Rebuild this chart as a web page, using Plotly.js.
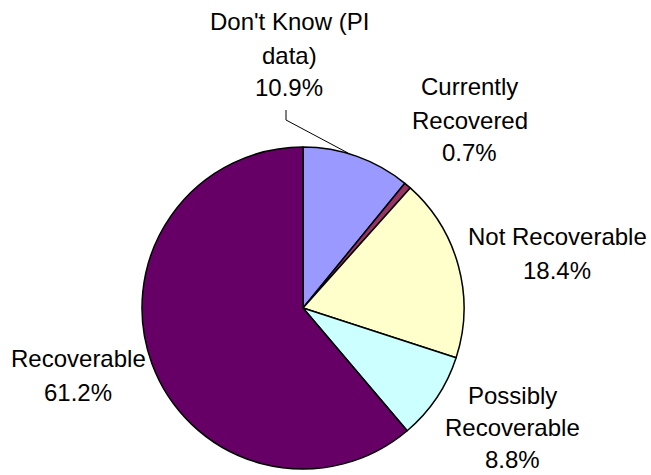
<!DOCTYPE html>
<html>
<head>
<meta charset="utf-8">
<script src="https://cdn.plot.ly/plotly-3.0.1.min.js"></script>
<style>html,body{margin:0;padding:0;background:#fff;}#chart{width:651px;height:475px;}</style>
</head>
<body>
<div id="chart"></div>
<script>
const categories = ["Don't Know (PI data)", "Currently Recovered", "Not Recoverable", "Possibly Recoverable", "Recoverable"];
const labelLines = [["Don't Know (PI", "data)"], ["Currently", "Recovered"], ["Not Recoverable"], ["Possibly", "Recoverable"], ["Recoverable"]];
const values = [10.9, 0.7, 18.4, 8.8, 61.2];
const colors = ["#9999FF", "#993366", "#FFFFCC", "#CCFFFF", "#660066"];

const W = 651, H = 475;
const px = x => x / W;
const py = y => 1 - y / H;

// label centres (pixels) and line spacing — layout only
const labelPos = [[289, 55], [470, 120], [557, 253.5], [512, 427], [78, 375]];
const lineGap = [33, 33, 33, 32, 34];

const annotations = [];
categories.forEach((c, i) => {
  const lines = labelLines[i].concat([values[i].toFixed(1) + '%']);
  const n = lines.length;
  lines.forEach((t, k) => {
    annotations.push({
      xref: 'paper', yref: 'paper',
      x: px(labelPos[i][0]),
      y: py(labelPos[i][1] + (k - (n - 1) / 2) * lineGap[i]),
      xanchor: 'center', yanchor: 'middle',
      text: t,
      showarrow: false,
      font: {family: 'Liberation Sans, Arial, sans-serif', size: 24, color: '#000'}
    });
  });
});

const data = [{
  type: 'pie',
  labels: categories,
  values: values,
  sort: false,
  direction: 'clockwise',
  rotation: 0,
  textinfo: 'none',
  hoverinfo: 'label+percent',
  marker: {colors: colors, line: {color: '#000', width: 1.5}},
  domain: {x: [142 / W, 464 / W], y: [6 / H, 328 / H]},
  showlegend: false
}];

const layout = {
  width: W, height: H,
  margin: {l: 0, r: 0, t: 0, b: 0},
  paper_bgcolor: '#fff',
  plot_bgcolor: '#fff',
  showlegend: false,
  annotations: annotations,
  shapes: [{
    type: 'path', xref: 'paper', yref: 'paper',
    path: `M ${px(286)} ${py(110)} L ${px(286)} ${py(120)} L ${px(348)} ${py(153)}`,
    line: {color: '#000', width: 1}
  }]
};

Plotly.newPlot('chart', data, layout, {displayModeBar: false, staticPlot: true});
</script>
</body>
</html>
